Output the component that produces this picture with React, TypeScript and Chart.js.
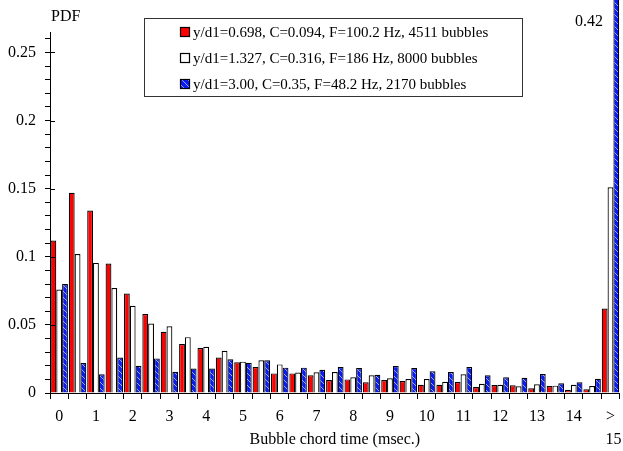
import React, { useEffect, useRef } from "react";
import { Chart, registerables } from "chart.js";

Chart.register(...registerables);

const bins = [
  "0", "0.5", "1", "1.5", "2", "2.5", "3", "3.5", "4", "4.5",
  "5", "5.5", "6", "6.5", "7", "7.5", "8", "8.5", "9", "9.5",
  "10", "10.5", "11", "11.5", "12", "12.5", "13", "13.5", "14", "14.5", ">15",
];

const redValues = [
  0.112, 0.147, 0.134, 0.095, 0.073, 0.058, 0.045, 0.036, 0.033, 0.026,
  0.0225, 0.019, 0.0144, 0.0144, 0.013, 0.0095, 0.010, 0.0078, 0.0095, 0.0088,
  0.0061, 0.0061, 0.0081, 0.0044, 0.0059, 0.0056, 0.0034, 0.0051, 0.0022, 0.0027, 0.062,
];

const whiteValues = [
  0.076, 0.102, 0.0955, 0.077, 0.064, 0.051, 0.049, 0.041, 0.034, 0.031,
  0.023, 0.024, 0.021, 0.015, 0.0152, 0.0154, 0.0115, 0.013, 0.0108, 0.0103,
  0.0103, 0.0083, 0.0137, 0.0068, 0.0061, 0.0049, 0.0064, 0.0054, 0.0061, 0.0051, 0.151,
];

const blueValues = [
  0.080, 0.022, 0.0137, 0.026, 0.020, 0.0254, 0.0156, 0.018, 0.018, 0.0247,
  0.0222, 0.024, 0.0186, 0.0186, 0.0171, 0.019, 0.0183, 0.0134, 0.0198, 0.0183,
  0.0159, 0.0154, 0.019, 0.013, 0.0115, 0.0112, 0.0139, 0.0071, 0.0078, 0.0105, 0.42,
];

const seriesNames = [
  "y/d1=0.698, C=0.094, F=100.2 Hz, 4511 bubbles",
  "y/d1=1.327, C=0.316, F=186 Hz, 8000 bubbles",
  "y/d1=3.00, C=0.35, F=48.2 Hz, 2170 bubbles",
];

const majorTicks = [0, 0.05, 0.1, 0.15, 0.2, 0.25];
const yTitle = "PDF";
const xTitle = "Bubble chord time (msec.)";
const overflowLabel = "0.42";
const lastBinSub = "15";

const SERIF = '"Liberation Serif", "Times New Roman", serif';

function makeHatch(): CanvasPattern | string {
  const c = document.createElement("canvas");
  c.width = 6;
  c.height = 6;
  const g = c.getContext("2d");
  if (!g) return "#0a1cf5";
  g.fillStyle = "#0a1cf5";
  g.fillRect(0, 0, 6, 6);
  g.strokeStyle = "rgba(225,232,255,0.85)";
  g.lineWidth = 0.8;
  g.beginPath();
  g.moveTo(0, 0);
  g.lineTo(6, 6);
  g.moveTo(-3, 3);
  g.lineTo(3, 9);
  g.moveTo(3, -3);
  g.lineTo(9, 3);
  g.stroke();
  return g.createPattern(c, "repeat") || "#0a1cf5";
}

export default function App() {
  const ref = useRef<HTMLCanvasElement | null>(null);

  useEffect(() => {
    document.body.style.margin = "0";
    const canvas = ref.current;
    if (!canvas) return;
    const hatch = makeHatch();
    const fills: (string | CanvasPattern)[] = ["#ff0000", "#ffffff", hatch];

    const annot = {
      id: "annot",
      afterDraw(chart: any) {
        const ctx: CanvasRenderingContext2D = chart.ctx;
        const ys = chart.scales.y;
        const xs = chart.scales.x;
        ctx.save();
        ctx.strokeStyle = "#000";
        ctx.lineWidth = 1;
        for (const v of majorTicks) {
          const py = Math.round(ys.getPixelForValue(v)) + 0.5;
          ctx.beginPath();
          ctx.moveTo(xs.left, py);
          ctx.lineTo(xs.left + 5, py);
          ctx.stroke();
        }
        ctx.fillStyle = "#000";
        ctx.font = `16px ${SERIF}`;
        ctx.textBaseline = "middle";
        ctx.textAlign = "left";
        ctx.fillText(yTitle, 51, 17);
        ctx.fillText(overflowLabel, 575, 22);
        const px = xs.getPixelForValue(bins.length - 1);
        ctx.textAlign = "center";
        ctx.fillText(lastBinSub, px + 3, 440);

        const bx = 144.5, by = 18.5, bw = 378, bh = 78;
        ctx.fillStyle = "#fff";
        ctx.fillRect(bx, by, bw, bh);
        ctx.strokeStyle = "#333";
        ctx.strokeRect(bx, by, bw, bh);
        const rows = [32, 58, 84];
        ctx.font = `15px ${SERIF}`;
        ctx.textAlign = "left";
        for (let i = 0; i < 3; i++) {
          const ry = rows[i];
          ctx.fillStyle = fills[i] as any;
          ctx.fillRect(180, ry - 5, 10, 10);
          ctx.strokeStyle = "#000";
          ctx.lineWidth = 1.2;
          ctx.strokeRect(180.5, ry - 4.5, 9, 9);
          ctx.fillStyle = "#000";
          ctx.fillText(seriesNames[i], 193, ry + 1);
        }
        ctx.restore();
      },
    };

    const mk = (label: string, data: number[], fill: any, clip?: any) => ({
      label,
      data,
      backgroundColor: fill,
      borderColor: "#000",
      borderWidth: 1.2,
      categoryPercentage: 0.95,
      barPercentage: 1.0,
      ...(clip !== undefined ? { clip } : {}),
    });

    const chart = new Chart(canvas, {
      type: "bar",
      data: {
        labels: bins,
        datasets: [
          mk(seriesNames[0], redValues, fills[0]),
          mk(seriesNames[1], whiteValues, fills[1]),
          mk(seriesNames[2], blueValues, fills[2], false),
        ],
      },
      options: {
        animation: false,
        responsive: false,
        devicePixelRatio: 1,
        layout: { padding: { top: 32, left: 0, right: 0, bottom: 0 } },
        plugins: {
          legend: { display: false },
          tooltip: { enabled: false },
          title: { display: false },
        },
        scales: {
          x: {
            type: "category",
            offset: true,
            afterFit: (s: any) => {
              s.height = 58;
            },
            grid: {
              display: true,
              drawOnChartArea: false,
              drawTicks: true,
              tickLength: 6,
              offset: true,
              color: "#000",
              tickColor: "#000",
            },
            border: { display: true, color: "#000", width: 1 },
            ticks: {
              autoSkip: false,
              maxRotation: 0,
              minRotation: 0,
              padding: 8,
              color: "#000",
              font: { family: SERIF, size: 16 },
              callback: (_v: any, i: number) => {
                if (i % 2 !== 0) return "";
                if (i === bins.length - 1) return ">";
                return bins[i];
              },
            },
            title: {
              display: true,
              text: xTitle,
              color: "#000",
              font: { family: SERIF, size: 16 },
              padding: { top: 0, bottom: 2 },
            },
          },
          y: {
            min: 0,
            max: 0.265,
            afterFit: (s: any) => {
              s.width = 50;
            },
            grid: {
              display: true,
              drawOnChartArea: false,
              drawTicks: true,
              tickLength: 5,
              color: "#000",
              tickColor: "#000",
            },
            border: { display: true, color: "#000", width: 1 },
            ticks: {
              stepSize: 0.01,
              includeBounds: false,
              autoSkip: false,
              padding: 9,
              color: "#000",
              font: { family: SERIF, size: 16 },
              callback: (v: any) => {
                const n = Number(v);
                const q = n / 0.05;
                if (Math.abs(q - Math.round(q)) < 1e-6) {
                  return String(Math.round(n * 100) / 100);
                }
                return "";
              },
            },
          },
        },
      },
      plugins: [annot],
    } as any);

    return () => {
      chart.destroy();
    };
  }, []);

  return (
    <div style={{ width: 623, height: 451, overflow: "hidden" }}>
      <canvas ref={ref} width={623} height={451} style={{ display: "block" }} />
    </div>
  );
}
